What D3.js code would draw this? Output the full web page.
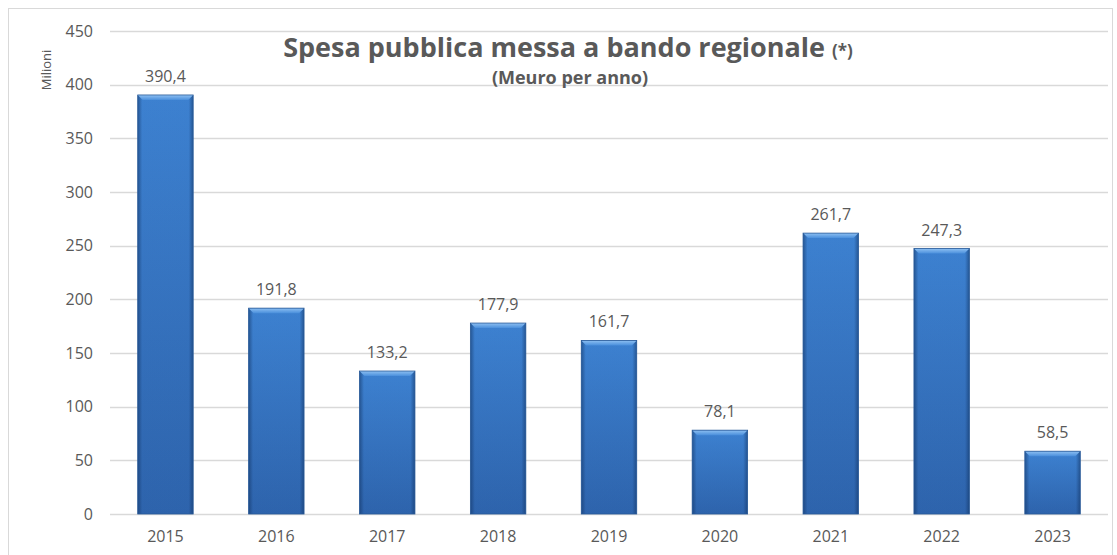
<!DOCTYPE html>
<html lang="it">
<head>
<meta charset="utf-8">
<title>Spesa pubblica messa a bando regionale</title>
<script src="https://cdn.jsdelivr.net/npm/d3@7"></script>
<style>
  body { margin: 0; background: #fff; }
  svg text { font-family: "Open Sans", "DejaVu Sans", sans-serif; }
</style>
</head>
<body>
<script>
// data
var years = ["2015", "2016", "2017", "2018", "2019", "2020", "2021", "2022", "2023"];
var values = [390.4, 191.8, 133.2, 177.9, 161.7, 78.1, 261.7, 247.3, 58.5];
var yTicks = [0, 50, 100, 150, 200, 250, 300, 350, 400, 450];

var w = 1117, h = 555;
var plotLeft = 110, plotRight = 1108, plotTop = 31, plotBottom = 514;

var svg = d3.select("body").append("svg")
  .attr("width", w)
  .attr("height", h);

// outer frame
svg.append("rect")
  .attr("x", 8.5).attr("y", 8.5)
  .attr("width", 1104).attr("height", 560)
  .attr("fill", "none")
  .attr("stroke", "#d9d9d9");

var x = d3.scaleBand().domain(years).range([plotLeft, plotRight])
  .paddingInner(0.5).paddingOuter(0.25);
var y = d3.scaleLinear().domain([0, 450]).range([plotBottom, plotTop]);

// gradients for the bevelled bars
var defs = svg.append("defs");
var gv = defs.append("linearGradient").attr("id", "barV")
  .attr("x1", 0).attr("y1", 0).attr("x2", 0).attr("y2", 1);
gv.append("stop").attr("offset", "0%").attr("stop-color", "#3f85d6");
gv.append("stop").attr("offset", "100%").attr("stop-color", "#2f66b0");

var gh = defs.append("linearGradient").attr("id", "barH")
  .attr("x1", 0).attr("y1", 0).attr("x2", 1).attr("y2", 0);
gh.append("stop").attr("offset", "0%").attr("stop-color", "#10305e").attr("stop-opacity", 0.55);
gh.append("stop").attr("offset", "8%").attr("stop-color", "#10305e").attr("stop-opacity", 0.05);
gh.append("stop").attr("offset", "92%").attr("stop-color", "#10305e").attr("stop-opacity", 0.05);
gh.append("stop").attr("offset", "100%").attr("stop-color", "#10305e").attr("stop-opacity", 0.55);

var gt = defs.append("linearGradient").attr("id", "barT")
  .attr("x1", 0).attr("y1", 0).attr("x2", 0).attr("y2", 1);
gt.append("stop").attr("offset", "0%").attr("stop-color", "#8ec0f2");
gt.append("stop").attr("offset", "100%").attr("stop-color", "#4a8fdc");

// gridlines
svg.append("g")
  .selectAll("line")
  .data(yTicks)
  .enter()
  .append("line")
  .attr("x1", plotLeft).attr("x2", plotRight)
  .attr("y1", function(d) { return Math.round(y(d)) + 0.5; })
  .attr("y2", function(d) { return Math.round(y(d)) + 0.5; })
  .attr("stroke", "#d9d9d9")
  .attr("stroke-width", 1.5);

// y axis labels
var yAxis = d3.axisLeft(y).tickValues(yTicks).tickSize(0).tickPadding(0);
var gy = svg.append("g")
  .attr("transform", "translate(93,0)")
  .call(yAxis);
gy.select(".domain").remove();
gy.selectAll("text")
  .attr("font-size", "16px")
  .attr("fill", "#595959")
  .attr("font-family", "'Open Sans', sans-serif");

// x axis labels
var xAxis = d3.axisBottom(x).tickSize(0).tickPadding(0);
var gx = svg.append("g")
  .attr("transform", "translate(0,531)")
  .call(xAxis);
gx.select(".domain").remove();
gx.selectAll("text")
  .attr("font-size", "16px")
  .attr("fill", "#595959")
  .attr("font-family", "'Open Sans', sans-serif");

// bars
var bars = svg.append("g").selectAll("g")
  .data(values)
  .enter()
  .append("g");

bars.append("rect")
  .attr("x", function(d, i) { return x(years[i]); })
  .attr("y", function(d) { return y(d); })
  .attr("width", x.bandwidth())
  .attr("height", function(d) { return y(0) - y(d); })
  .attr("fill", "url(#barV)");

bars.append("rect")
  .attr("x", function(d, i) { return x(years[i]); })
  .attr("y", function(d) { return y(d); })
  .attr("width", x.bandwidth())
  .attr("height", function(d) { return y(0) - y(d); })
  .attr("fill", "url(#barH)");

// top bevel
bars.append("path")
  .attr("d", function(d, i) {
    var x0 = x(years[i]), x1 = x0 + x.bandwidth(), y0 = y(d);
    return "M" + x0 + "," + y0 + "L" + x1 + "," + y0 +
      "L" + (x1 - 5) + "," + (y0 + 5) + "L" + (x0 + 5) + "," + (y0 + 5) + "Z";
  })
  .attr("fill", "url(#barT)");

bars.append("rect")
  .attr("x", function(d, i) { return x(years[i]); })
  .attr("y", function(d) { return y(d); })
  .attr("width", x.bandwidth())
  .attr("height", function(d) { return y(0) - y(d); })
  .attr("fill", "none")
  .attr("stroke", "#2a5a98")
  .attr("stroke-width", 0.8);

// value labels
svg.append("g").selectAll("text")
  .data(values)
  .enter()
  .append("text")
  .attr("x", function(d, i) { return x(years[i]) + x.bandwidth() / 2; })
  .attr("y", function(d) { return y(d) - 13; })
  .attr("text-anchor", "middle")
  .attr("font-size", "16px")
  .attr("fill", "#595959")
  .text(function(d) { return d3.format(".1f")(d).replace(".", ","); });

// axis title
svg.append("text")
  .attr("transform", "translate(51,70) rotate(-90)")
  .attr("text-anchor", "middle")
  .attr("font-size", "13px")
  .attr("fill", "#595959")
  .text("Milioni");

// chart title
var title = svg.append("text")
  .attr("x", 568)
  .attr("y", 57)
  .attr("text-anchor", "middle")
  .attr("fill", "#595959")
  .attr("font-weight", "bold");
title.append("tspan")
  .attr("font-size", "27px")
  .text("Spesa pubblica messa a bando regionale ");
title.append("tspan")
  .attr("font-size", "17px")
  .text("(*)");

svg.append("text")
  .attr("x", 570)
  .attr("y", 84)
  .attr("text-anchor", "middle")
  .attr("font-size", "18px")
  .attr("font-weight", "bold")
  .attr("fill", "#595959")
  .text("(Meuro per anno)");
</script>
</body>
</html>
